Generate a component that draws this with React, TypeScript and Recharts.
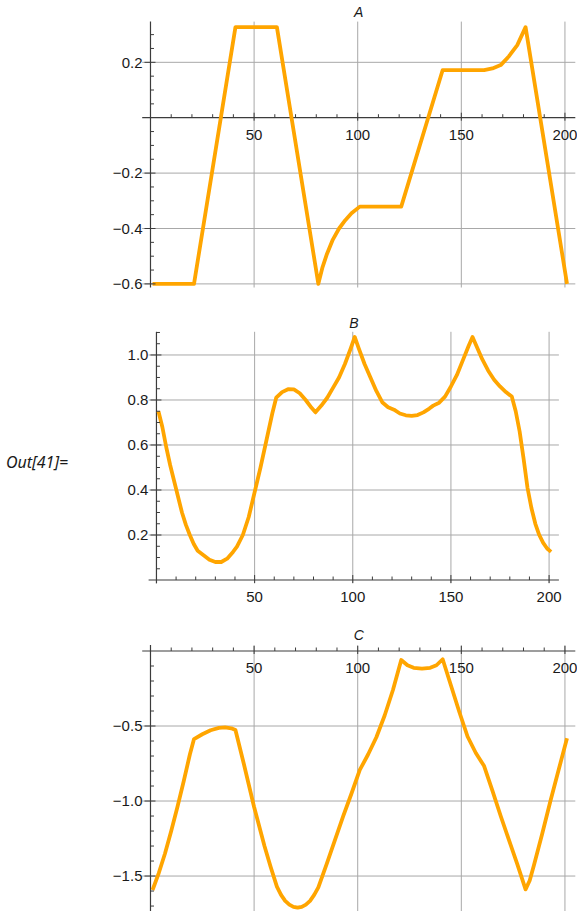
import React from 'react';
import { LineChart, Line, XAxis, YAxis, ReferenceLine } from 'recharts';

const FONT = '"Liberation Sans", Arial, Helvetica, sans-serif';
const ORANGE = '#ffa500';
const GRID = '#a8a8a8';
const AXIS = '#3c3c3c';

// shared x ticks (minor every 10, labelled every 50)
const X_TICKS = [10, 20, 30, 40, 50, 60, 70, 80, 90, 100, 110, 120, 130, 140, 150, 160, 170, 180, 190, 200];
const X_LABELS = [50, 100, 150, 200];

// panel A
const A_X = [1, 21, 41, 61, 81, 83, 85, 88, 91, 94, 97, 101, 121, 141, 161, 165, 169, 173, 177, 181, 201];
const A_Y = [-0.6, -0.6, 0.327, 0.327, -0.6, -0.54, -0.495, -0.44, -0.4, -0.37, -0.345, -0.321, -0.321, 0.172, 0.172, 0.178, 0.19, 0.222, 0.262, 0.327, -0.6];
const A_Y_TICKS = [-0.6, -0.55, -0.5, -0.45, -0.4, -0.35, -0.3, -0.25, -0.2, -0.15, -0.1, -0.05, 0.05, 0.1, 0.15, 0.2, 0.25, 0.3];
const A_Y_LABELS = [-0.6, -0.4, -0.2, 0.2];

// panel B
const B_X = [1, 3, 5, 7, 9, 11, 13, 15, 17, 19, 21, 24, 27, 30, 33, 36, 39, 41, 44, 47, 50, 53, 56, 59, 61, 64, 67, 70, 73, 76, 79, 81, 84, 87, 90, 93, 96, 99, 101, 103, 106, 109, 112, 115, 118, 121, 124, 127, 130, 133, 136, 139, 141, 144, 147, 150, 153, 156, 159, 161, 163, 166, 169, 172, 175, 178, 181, 183, 185, 187, 189, 191, 193, 195, 197, 199, 201];
const B_Y = [0.75, 0.68, 0.59, 0.51, 0.44, 0.37, 0.3, 0.245, 0.2, 0.16, 0.13, 0.11, 0.09, 0.08, 0.08, 0.095, 0.125, 0.148, 0.2, 0.28, 0.39, 0.5, 0.62, 0.74, 0.81, 0.835, 0.848, 0.847, 0.83, 0.8, 0.765, 0.745, 0.775, 0.81, 0.855, 0.9, 0.96, 1.03, 1.08, 1.03, 0.96, 0.9, 0.84, 0.79, 0.768, 0.757, 0.74, 0.732, 0.729, 0.733, 0.745, 0.762, 0.775, 0.788, 0.815, 0.86, 0.91, 0.975, 1.04, 1.08, 1.04, 0.98, 0.93, 0.89, 0.86, 0.835, 0.815, 0.75, 0.66, 0.54, 0.41, 0.32, 0.25, 0.2, 0.165, 0.14, 0.125];
const B_Y_TICKS = [0.05, 0.1, 0.15, 0.2, 0.25, 0.3, 0.35, 0.4, 0.45, 0.5, 0.55, 0.6, 0.65, 0.7, 0.75, 0.8, 0.85, 0.9, 0.95, 1.0, 1.05, 1.1];
const B_Y_LABELS = [0.2, 0.4, 0.6, 0.8, 1.0];

// panel C
const C_X = [1, 4, 7, 10, 13, 16, 19, 21, 25, 29, 33, 36, 39, 41, 45, 50, 55, 58, 61, 63, 65, 67, 69, 71, 73, 75, 77, 79, 81, 85, 89, 93, 97, 101, 105, 109, 113, 117, 121, 124, 127, 131, 135, 138, 141, 145, 149, 153, 157, 161, 165, 169, 173, 177, 181, 183, 185, 189, 193, 197, 201];
const C_Y = [-1.593, -1.48, -1.35, -1.2, -1.04, -0.87, -0.69, -0.587, -0.555, -0.528, -0.512, -0.509, -0.515, -0.527, -0.75, -1.04, -1.3, -1.44, -1.571, -1.625, -1.665, -1.69, -1.705, -1.711, -1.705, -1.69, -1.665, -1.625, -1.575, -1.42, -1.26, -1.1, -0.95, -0.793, -0.69, -0.575, -0.43, -0.26, -0.06, -0.095, -0.112, -0.118, -0.112, -0.095, -0.055, -0.23, -0.405, -0.57, -0.68, -0.767, -0.93, -1.1, -1.26, -1.42, -1.589, -1.53, -1.43, -1.22, -1.0, -0.79, -0.582];
const C_Y_TICKS = [-0.1, -0.2, -0.3, -0.4, -0.5, -0.6, -0.7, -0.8, -0.9, -1.0, -1.1, -1.2, -1.3, -1.4, -1.5, -1.6, -1.7];
const C_Y_LABELS = [-0.5, -1.0, -1.5];

type Margin = { top: number; right: number; bottom: number; left: number };

interface PanelProps {
  xs: number[];
  ys: number[];
  left: number;
  top: number;
  width: number;
  height: number;
  // plot area box inside the chart svg
  margin: Margin;
  xDomain: [number, number];
  yDomain: [number, number];
  yTicks: number[];
  yLabels: number[];
}

const fmt = (v: number) => (v < 0 ? '\u2212' : '') + Math.abs(v).toFixed(1);
const has = (list: number[], v: number) => list.some(t => Math.abs(t - v) < 1e-6);

function Panel(p: PanelProps) {
  const data = p.xs.map((x, i) => ({ x, y: p.ys[i] }));
  const pw = p.width - p.margin.left - p.margin.right;
  const ph = p.height - p.margin.top - p.margin.bottom;
  const axisY = p.margin.top + (p.yDomain[1] / (p.yDomain[1] - p.yDomain[0])) * ph;
  const axisX = p.margin.left + (-p.xDomain[0] / (p.xDomain[1] - p.xDomain[0])) * pw;

  // axes take 1px each (a 0-sized axis is not drawn), so shrink the margins by that
  const chartMargin = {
    top: p.margin.top - 1,
    right: p.margin.right,
    bottom: p.margin.bottom,
    left: p.margin.left - 1,
  };

  const XTick = (props: any) => {
    const { x, payload } = props;
    const major = has(X_LABELS, payload.value);
    return (
      <g>
        <line x1={x} x2={x} y1={axisY - (major ? 5 : 3.5)} y2={axisY + (major ? 3 : 0)} stroke={AXIS} strokeWidth={1} />
        {major && (
          <text x={x} y={axisY + 22.3} textAnchor="middle" fontFamily={FONT} fontSize={15} fill="#1a1a1a">
            {payload.value}
          </text>
        )}
      </g>
    );
  };

  const YTick = (props: any) => {
    const { y, payload } = props;
    const major = has(p.yLabels, payload.value);
    return (
      <g>
        <line x1={axisX - (major ? 6 : 0)} x2={axisX + (major ? 5 : 3.5)} y1={y} y2={y} stroke={AXIS} strokeWidth={1} />
        {major && (
          <text x={axisX - 8} y={y + 5.3} textAnchor="end" fontFamily={FONT} fontSize={15} fill="#1a1a1a">
            {fmt(payload.value)}
          </text>
        )}
      </g>
    );
  };

  return (
    <div style={{ position: 'absolute', left: p.left, top: p.top }}>
      <LineChart width={p.width} height={p.height} data={data} margin={chartMargin}>
        <XAxis
          type="number"
          dataKey="x"
          orientation="top"
          domain={p.xDomain}
          allowDataOverflow
          ticks={X_TICKS}
          interval={0}
          height={1}
          axisLine={false}
          tickLine={false}
          tick={XTick}
        />
        <YAxis
          type="number"
          domain={p.yDomain}
          allowDataOverflow
          ticks={p.yTicks}
          interval={0}
          width={1}
          axisLine={false}
          tickLine={false}
          tick={YTick}
        />
        {X_LABELS.map(v => (
          <ReferenceLine key={'gx' + v} x={v} stroke={GRID} strokeWidth={1} />
        ))}
        {p.yLabels.map(v => (
          <ReferenceLine key={'gy' + v} y={v} stroke={GRID} strokeWidth={1} />
        ))}
        <ReferenceLine y={0} stroke={AXIS} strokeWidth={1.2} />
        <ReferenceLine x={0} stroke={AXIS} strokeWidth={1.2} />
        <Line
          type="linear"
          dataKey="y"
          stroke={ORANGE}
          strokeWidth={3.8}
          strokeLinejoin="round"
          dot={false}
          activeDot={false}
          isAnimationActive={false}
        />
      </LineChart>
    </div>
  );
}

export default function App() {
  return (
    <div style={{ position: 'absolute', left: 0, top: 0, width: 577, height: 911, background: '#fff', overflow: 'hidden' }}>
      <Panel
        xs={A_X} ys={A_Y}
        left={100} top={0} width={477} height={300}
        margin={{ top: 21.6, right: 1.7, bottom: 12.5, left: 42.2 }}
        xDomain={[-4, 205]} yDomain={[-0.613, 0.347]}
        yTicks={A_Y_TICKS} yLabels={A_Y_LABELS}
      />
      <Panel
        xs={B_X} ys={B_Y}
        left={100} top={300} width={477} height={310}
        margin={{ top: 31.8, right: 18.1, bottom: 26.6, left: 48.6 }}
        xDomain={[-4, 205]} yDomain={[-0.015, 1.103]}
        yTicks={B_Y_TICKS} yLabels={B_Y_LABELS}
      />
      <Panel
        xs={C_X} ys={C_Y}
        left={100} top={610} width={477} height={301}
        margin={{ top: 35, right: 1.7, bottom: 0, left: 42.2 }}
        xDomain={[-4, 205]} yDomain={[-1.733, 0.04]}
        yTicks={C_Y_TICKS} yLabels={C_Y_LABELS}
      />
      <svg width={577} height={911} style={{ position: 'absolute', left: 0, top: 0, pointerEvents: 'none' }}>
        <text x={358.7} y={17.3} textAnchor="middle" fontFamily={FONT} fontStyle="italic" fontSize={14} fill="#1a1a1a">A</text>
        <text x={353.8} y={328} textAnchor="middle" fontFamily={FONT} fontStyle="italic" fontSize={14} fill="#1a1a1a">B</text>
        <text x={358.7} y={640} textAnchor="middle" fontFamily={FONT} fontStyle="italic" fontSize={14} fill="#1a1a1a">C</text>
        <text x={6} y={468} fontFamily='"Noto Sans", "Open Sans", sans-serif' fontStyle="italic" fontSize={16} fill="#1a1a1a">Out[41]=</text>
      </svg>
    </div>
  );
}
